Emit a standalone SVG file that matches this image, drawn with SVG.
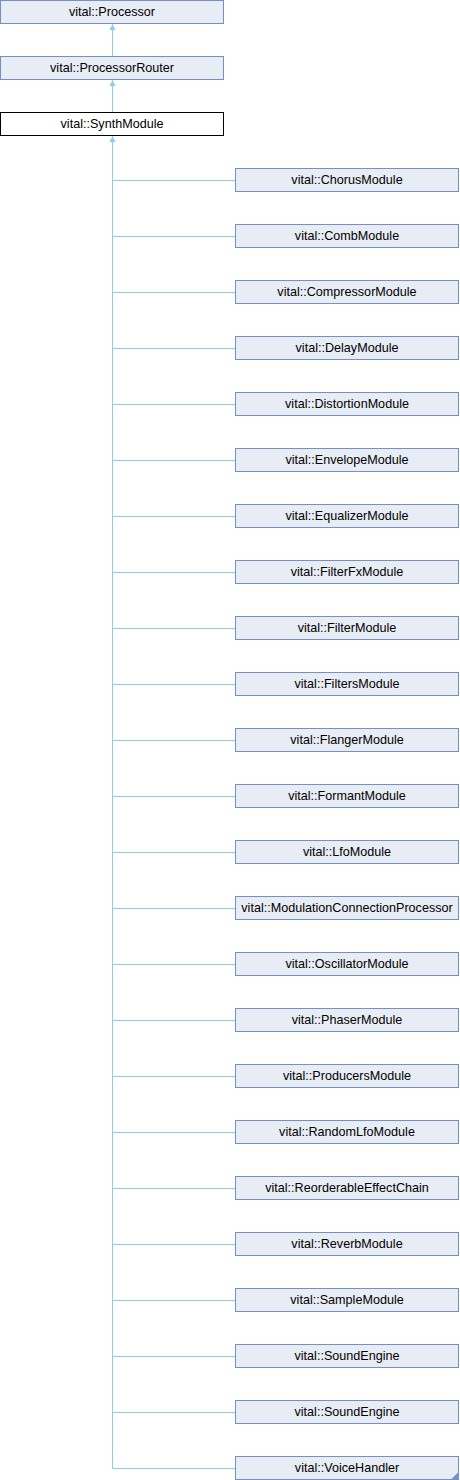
<svg xmlns="http://www.w3.org/2000/svg" width="460" height="1480" viewBox="0 0 460 1480">
<style>
.n rect{fill:#e8ecf5;stroke:#7590c8;stroke-width:1}
.n.cur rect{fill:#ffffff;stroke:#000000}
.n text{font-family:"Liberation Sans",Arial,sans-serif;font-size:12.6px;fill:#000;text-anchor:middle}
.e{stroke:#8ecbee;stroke-width:1;fill:none}
.ah{fill:#8ecbee}
</style>
<g id="connectors">
<line class="e" x1="112.5" y1="56.5" x2="112.5" y2="24"/>
<path class="ah" d="M112.5,24 L115.5,30 L109.5,30 Z"/>
<line class="e" x1="112.5" y1="112.5" x2="112.5" y2="80"/>
<path class="ah" d="M112.5,80 L115.5,86 L109.5,86 Z"/>
<path class="e" d="M112.5,136 V1468.5"/>
<path class="ah" d="M112.5,136 L115.5,142 L109.5,142 Z"/>
<path class="e" d="M112.5,180.5H235M112.5,236.5H235M112.5,292.5H235M112.5,348.5H235M112.5,404.5H235M112.5,460.5H235M112.5,516.5H235M112.5,572.5H235M112.5,628.5H235M112.5,684.5H235M112.5,740.5H235M112.5,796.5H235M112.5,852.5H235M112.5,908.5H235M112.5,964.5H235M112.5,1020.5H235M112.5,1076.5H235M112.5,1132.5H235M112.5,1188.5H235M112.5,1244.5H235M112.5,1300.5H235M112.5,1356.5H235M112.5,1412.5H235M112.5,1468.5H235"/>
</g>
<g id="processor" class="n"><rect x="0.5" y="0.5" width="223" height="23"/><text x="112" y="16">vital::Processor</text></g>
<g id="processorrouter" class="n"><rect x="0.5" y="56.5" width="223" height="23"/><text x="112" y="72">vital::ProcessorRouter</text></g>
<g id="synthmodule" class="n cur"><rect x="0.5" y="112.5" width="223" height="23"/><text x="112" y="128">vital::SynthModule</text></g>
<g id="chorus" class="n"><rect x="235.5" y="168.5" width="223" height="23"/><text x="347" y="184">vital::ChorusModule</text></g>
<g id="comb" class="n"><rect x="235.5" y="224.5" width="223" height="23"/><text x="347" y="240">vital::CombModule</text></g>
<g id="compressor" class="n"><rect x="235.5" y="280.5" width="223" height="23"/><text x="347" y="296">vital::CompressorModule</text></g>
<g id="delay" class="n"><rect x="235.5" y="336.5" width="223" height="23"/><text x="347" y="352">vital::DelayModule</text></g>
<g id="distortion" class="n"><rect x="235.5" y="392.5" width="223" height="23"/><text x="347" y="408">vital::DistortionModule</text></g>
<g id="envelope" class="n"><rect x="235.5" y="448.5" width="223" height="23"/><text x="347" y="464">vital::EnvelopeModule</text></g>
<g id="equalizer" class="n"><rect x="235.5" y="504.5" width="223" height="23"/><text x="347" y="520">vital::EqualizerModule</text></g>
<g id="filterfx" class="n"><rect x="235.5" y="560.5" width="223" height="23"/><text x="347" y="576">vital::FilterFxModule</text></g>
<g id="filter" class="n"><rect x="235.5" y="616.5" width="223" height="23"/><text x="347" y="632">vital::FilterModule</text></g>
<g id="filters" class="n"><rect x="235.5" y="672.5" width="223" height="23"/><text x="347" y="688">vital::FiltersModule</text></g>
<g id="flanger" class="n"><rect x="235.5" y="728.5" width="223" height="23"/><text x="347" y="744">vital::FlangerModule</text></g>
<g id="formant" class="n"><rect x="235.5" y="784.5" width="223" height="23"/><text x="347" y="800">vital::FormantModule</text></g>
<g id="lfo" class="n"><rect x="235.5" y="840.5" width="223" height="23"/><text x="347" y="856">vital::LfoModule</text></g>
<g id="modconn" class="n"><rect x="235.5" y="896.5" width="223" height="23"/><text x="347" y="912">vital::ModulationConnectionProcessor</text></g>
<g id="oscillator" class="n"><rect x="235.5" y="952.5" width="223" height="23"/><text x="347" y="968">vital::OscillatorModule</text></g>
<g id="phaser" class="n"><rect x="235.5" y="1008.5" width="223" height="23"/><text x="347" y="1024">vital::PhaserModule</text></g>
<g id="producers" class="n"><rect x="235.5" y="1064.5" width="223" height="23"/><text x="347" y="1080">vital::ProducersModule</text></g>
<g id="randomlfo" class="n"><rect x="235.5" y="1120.5" width="223" height="23"/><text x="347" y="1136">vital::RandomLfoModule</text></g>
<g id="reorderable" class="n"><rect x="235.5" y="1176.5" width="223" height="23"/><text x="347" y="1192">vital::ReorderableEffectChain</text></g>
<g id="reverb" class="n"><rect x="235.5" y="1232.5" width="223" height="23"/><text x="347" y="1248">vital::ReverbModule</text></g>
<g id="sample" class="n"><rect x="235.5" y="1288.5" width="223" height="23"/><text x="347" y="1304">vital::SampleModule</text></g>
<g id="soundengine1" class="n"><rect x="235.5" y="1344.5" width="223" height="23"/><text x="347" y="1360">vital::SoundEngine</text></g>
<g id="soundengine2" class="n"><rect x="235.5" y="1400.5" width="223" height="23"/><text x="347" y="1416">vital::SoundEngine</text></g>
<g id="voicehandler" class="n"><rect x="235.5" y="1456.5" width="223" height="23"/><text x="347" y="1472">vital::VoiceHandler</text><path d="M458.5,1472 L458.5,1479.5 L451,1479.5 Z" fill="#7590c8"/></g>
</svg>
